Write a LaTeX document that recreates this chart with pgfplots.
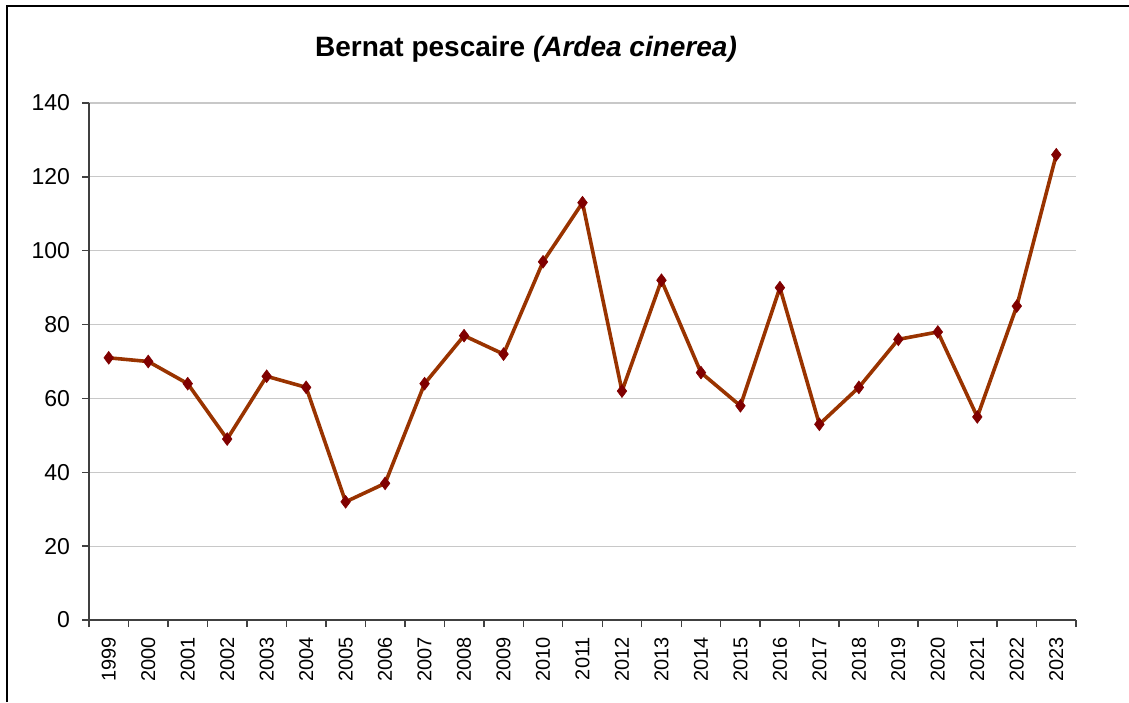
\documentclass[border=0pt]{standalone}
\usepackage{pgfplots}
\pgfplotsset{compat=1.18}
\usepackage{fontspec}
\setmainfont{Liberation Sans}
\definecolor{lineBrown}{HTML}{993300}
\definecolor{markRed}{HTML}{800000}
\definecolor{gridGray}{HTML}{C8C8C8}
\definecolor{axisGray}{HTML}{404040}

\begin{document}
\begin{tikzpicture}
% page frame, 1px = 0.5pt
\path[use as bounding box] (0,0) rectangle (564.5pt,-351pt);
\draw[line width=1pt] (3.5pt,-351pt) -- (3.5pt,-3pt) -- (564.5pt,-3pt);
\node[font=\fontsize{14}{16}\selectfont\bfseries] at (263pt,-24.5pt)
  {Bernat pescaire \textit{(Ardea cinerea)}};
\begin{axis}[
    at={(44.5pt,-310pt)}, anchor=south west,
    scale only axis,
    width=493.5pt, height=258.5pt,
    xmin=-0.5, xmax=24.5,
    ymin=0, ymax=140,
    ytick={0,20,...,140},
    xtick={0,...,24},
    xticklabels={1999,2000,2001,2002,2003,2004,2005,2006,2007,2008,2009,2010,2011,2012,2013,2014,2015,2016,2017,2018,2019,2020,2021,2022,2023},
    minor xtick={-0.5,0.5,...,24.5},
    major x tick style={draw=none},
    axis x line*=bottom, axis y line*=left,
    axis line style={axisGray, line width=0.7pt},
    every tick/.style={axisGray, line width=0.7pt},
    tick align=outside,
    major tick length=3.5pt, minor tick length=3.5pt,
    ymajorgrids, grid style={gridGray, line width=0.6pt},
    x tick label style={rotate=90, anchor=east, font=\fontsize{10}{12}\selectfont},
    y tick label style={font=\fontsize{11.5}{13}\selectfont},
    xticklabel shift=1.5pt, yticklabel shift=2.5pt,
    /pgf/number format/assume math mode=true,
    clip=false,
]
\addplot[color=lineBrown, line width=1.8pt, mark=diamond*, mark size=3.2pt,
  mark options={fill=markRed, draw=markRed, line width=0.3pt}]
coordinates {(0,71)(1,70)(2,64)(3,49)(4,66)(5,63)(6,32)(7,37)(8,64)(9,77)(10,72)(11,97)(12,113)(13,62)(14,92)(15,67)(16,58)(17,90)(18,53)(19,63)(20,76)(21,78)(22,55)(23,85)(24,126)};
\end{axis}
\end{tikzpicture}
\end{document}
